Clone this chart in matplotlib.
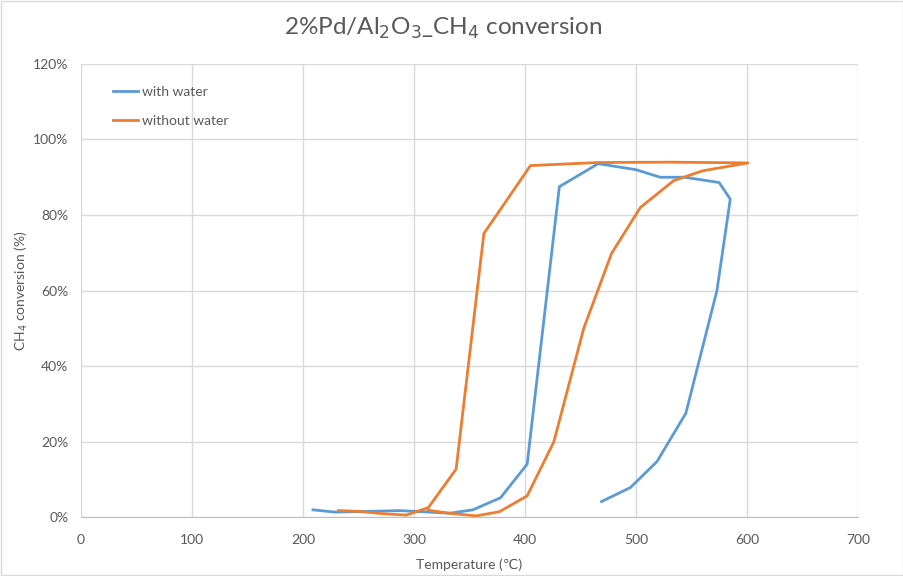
import matplotlib.pyplot as plt
from matplotlib.ticker import FuncFormatter
from matplotlib.patches import Rectangle

plt.rcParams['font.family'] = ['Lato', 'DejaVu Sans']

# with water: heating branch then cooling branch
t_water = [469, 495, 519, 545, 573, 585, 575, 544, 522, 500, 466, 431, 402,
           378, 353, 332, 308, 287, 260, 229, 209]
c_water = [4.1, 7.8, 14.7, 27.5, 60.0, 84.2, 88.6, 90.0, 90.0, 92.0, 93.6, 87.5,
           14.0, 5.1, 1.9, 1.0, 1.4, 1.7, 1.5, 1.3, 1.9]

# without water
t_dry = [232, 250, 271, 293, 313, 338, 363, 405, 466, 530, 601, 560, 534, 504,
         478, 453, 426, 402, 377, 356, 332, 313]
c_dry = [1.7, 1.5, 0.9, 0.5, 2.5, 12.7, 75.1, 93.1, 93.9, 94.0, 93.8, 91.7,
         89.1, 82.0, 69.8, 50.0, 19.9, 5.6, 1.4, 0.3, 1.0, 1.8]

grey = '#595959'
fig = plt.figure(figsize=(9.04, 5.76), dpi=100)
ax = fig.add_axes([0.0896, 0.1024, 0.8594, 0.7865])

ax.plot(t_water, c_water, color='#5B9BD5', lw=2, label='with water')
ax.plot(t_dry, c_dry, color='#ED7D31', lw=2, label='without water')

ax.set_xlim(0, 700)
ax.set_ylim(0, 120)
ax.set_xticks(range(0, 701, 100))
ax.set_yticks(range(0, 121, 20))
ax.yaxis.set_major_formatter(FuncFormatter(lambda v, p: f'{v:.0f}%'))
ax.grid(True, color='#D9D9D9', lw=1)
ax.set_axisbelow(True)
for s in ['top', 'right', 'left']:
    ax.spines[s].set_visible(False)
ax.spines['bottom'].set_color('#BFBFBF')
ax.tick_params(length=0, labelsize=10, labelcolor=grey)
ax.tick_params(axis='x', pad=12)
ax.tick_params(axis='y', pad=9)

ax.set_xlabel('Temperature (℃)', fontsize=10, color=grey, labelpad=9,
              family=['Lato', 'DejaVu Sans'])
ax.set_ylabel('CH$_4$ conversion (%)', fontsize=10, color=grey, labelpad=2)
fig.text(443 / 904, 1 - 28 / 576, '2%Pd/Al$_2$O$_3$_CH$_4$ conversion',
         fontsize=17.5, color=grey, ha='center', va='center')

leg = ax.legend(loc='upper left', bbox_to_anchor=(0.025, 0.98), frameon=False,
                fontsize=10, handlelength=1.8, labelspacing=1.25, handletextpad=0.3)
for txt in leg.get_texts():
    txt.set_color(grey)

fig.patches.append(Rectangle((0.001, 0.001), 0.998, 0.998, transform=fig.transFigure,
                             fill=False, edgecolor='#D9D9D9', lw=1))

plt.savefig('out.png')
